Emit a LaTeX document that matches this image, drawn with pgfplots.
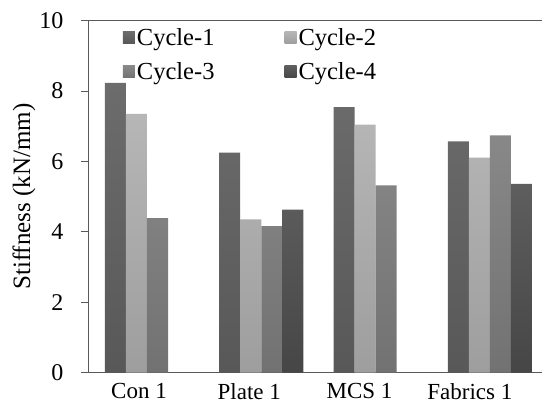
\documentclass[border=0pt]{standalone}
\usepackage{fontspec}
\setmainfont{Liberation Serif}
\usepackage{pgfplots}
\pgfplotsset{compat=1.18}
\begin{document}
\begin{tikzpicture}
\begin{axis}[
  scale only axis,
  width=454bp, height=352.2bp,
  xmin=-0.516, xmax=3.456,
  ymin=0, ymax=10,
  ytick={0,2,4,6,8,10},
  yticklabels={0,2,4,6,8,10},
  xtick={-0.07,0.895,1.86,2.825},
  xticklabels={Con 1,Plate 1,MCS 1,Fabrics 1},
  x tick style={draw=none},
  axis x line*=bottom,
  axis y line*=left,
  axis line style={gray!70!black, line width=0.8bp},
  y tick style={gray!70!black, line width=0.8bp},
  tick align=outside,
  major tick length=7bp,
  tick label style={font=\fontsize{23bp}{27bp}\selectfont},
  yticklabel style={font=\fontsize{24bp}{28bp}\selectfont, xshift=-14bp},
  ylabel={Stiffness (kN/mm)},
  ylabel style={font=\fontsize{25bp}{29bp}\selectfont, at={(axis description cs:-0.141,0.5)}, anchor=center, rotate=0},
  ybar=0pt,
  bar width=0.184,
  legend columns=2,
  legend style={draw=none, fill=none, at={(axis description cs:0.07,0.99)}, anchor=north west,
    font=\fontsize{24.5bp}{28bp}\selectfont, row sep=12bp,
    /tikz/every even column/.append style={column sep=68bp}},
  legend image code/.code={\path[#1,draw=none] (0bp,-6bp) rectangle (12bp,6bp);},
]
\addplot[draw=none, shade, top color={rgb,255:red,108;green,108;blue,108}, bottom color={rgb,255:red,88;green,88;blue,88}]
  coordinates {(0,8.23) (1,6.25) (2,7.54) (3,6.57)};
\addplot[draw=none, shade, top color={rgb,255:red,182;green,182;blue,182}, bottom color={rgb,255:red,158;green,158;blue,158}]
  coordinates {(0,7.35) (1,4.35) (2,7.04) (3,6.11)};
\addplot[draw=none, shade, top color={rgb,255:red,136;green,136;blue,136}, bottom color={rgb,255:red,114;green,114;blue,114}]
  coordinates {(0,4.39) (1,4.16) (2,5.32) (3,6.74)};
\addplot[draw=none, shade, top color={rgb,255:red,94;green,94;blue,94}, bottom color={rgb,255:red,70;green,70;blue,70}]
  coordinates {(1,4.63) (3,5.36)};
\legend{Cycle-1,Cycle-2,Cycle-3,Cycle-4}
\draw[gray!70!black, line width=0.8bp] (rel axis cs:0,1) -- (rel axis cs:1,1);
\end{axis}
\pgfresetboundingbox
\path[use as bounding box] (-88bp,-32.3bp) rectangle (454bp,372.7bp);
\end{tikzpicture}
\end{document}
